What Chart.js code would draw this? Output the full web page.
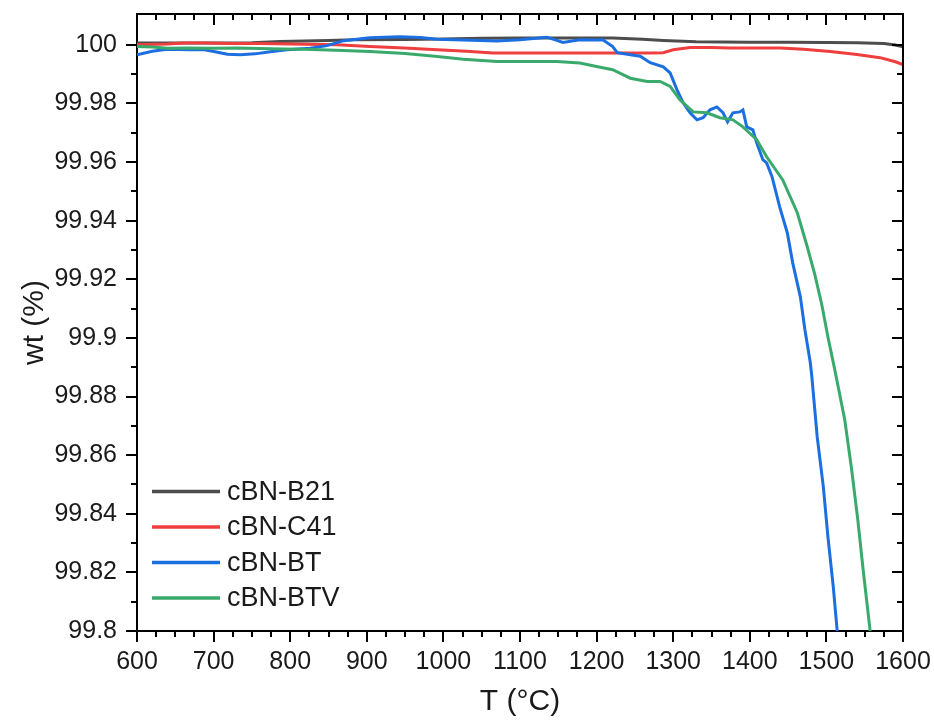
<!DOCTYPE html>
<html>
<head>
<meta charset="utf-8">
<script src="https://cdn.jsdelivr.net/npm/chart.js@4.4.1/dist/chart.umd.min.js"></script>
<style>
html,body{margin:0;padding:0;background:#fff;}
#wrap{width:934px;height:727px;position:relative;}
</style>
</head>
<body>
<div id="wrap"><canvas id="c" width="934" height="727"></canvas></div>
<script>
// ---- tick labels ----
const xTicks = [600, 700, 800, 900, 1000, 1100, 1200, 1300, 1400, 1500, 1600];
const yTicks = [99.8, 99.82, 99.84, 99.86, 99.88, 99.9, 99.92, 99.94, 99.96, 99.98, 100];
const seriesNames = ['cBN-B21', 'cBN-C41', 'cBN-BT', 'cBN-BTV'];

// ---- cBN-B21 ----
const tB21 = [600, 650, 700, 750, 787, 850, 883, 950, 1000, 1050, 1100, 1150, 1200, 1221, 1260, 1287, 1330, 1400, 1450, 1500, 1540, 1575, 1590, 1600];
const wB21 = [100.0006, 100.0006, 100.0006, 100.0007, 100.0011, 100.0015, 100.0017, 100.0018, 100.0020, 100.0022, 100.0023, 100.0023, 100.0023, 100.0023, 100.0019, 100.0015, 100.0010, 100.0009, 100.0009, 100.0008, 100.0007, 100.0004, 99.9999, 99.9993];

// ---- cBN-C41 ----
const tC41 = [600, 640, 660, 690, 720, 760, 800, 861, 904, 949, 992, 1030, 1065, 1150, 1200, 1270, 1287, 1300, 1322, 1350, 1374, 1440, 1470, 1505, 1540, 1570, 1590, 1600];
const wC41 = [100.0000, 100.0003, 100.0006, 100.0006, 100.0004, 100.0004, 100.0003, 100.0000, 99.9994, 99.9989, 99.9983, 99.9978, 99.9972, 99.9972, 99.9972, 99.9972, 99.9973, 99.9983, 99.9991, 99.9991, 99.9989, 99.9989, 99.9985, 99.9977, 99.9967, 99.9956, 99.9942, 99.9932];

// ---- cBN-BT ----
const tBT = [600, 620, 639, 669, 688, 702, 718, 735, 754, 774, 796, 826, 848, 870, 904, 943, 970, 992, 1025, 1070, 1100, 1135, 1148, 1156, 1178, 1200, 1208, 1221, 1227, 1244, 1257, 1270, 1287, 1296, 1305, 1313, 1322, 1331, 1339, 1348, 1357, 1365, 1371, 1378, 1387, 1391, 1396, 1404, 1409, 1417, 1422, 1429, 1439, 1449, 1456, 1466, 1472, 1479, 1481, 1488, 1496, 1502, 1509, 1514, 1518];
const wBT = [99.9966, 99.9978, 99.9985, 99.9983, 99.9983, 99.9976, 99.9968, 99.9966, 99.9969, 99.9976, 99.9983, 99.9988, 99.9997, 100.0014, 100.0024, 100.0027, 100.0025, 100.0019, 100.0016, 100.0013, 100.0017, 100.0026, 100.0015, 100.0008, 100.0017, 100.0016, 100.0017, 99.9994, 99.9973, 99.9966, 99.9961, 99.9939, 99.9925, 99.9904, 99.9846, 99.9802, 99.9768, 99.9744, 99.9751, 99.9778, 99.9788, 99.9768, 99.9737, 99.9768, 99.9771, 99.9778, 99.9720, 99.9710, 99.9666, 99.9608, 99.9597, 99.9550, 99.9447, 99.9358, 99.9256, 99.9140, 99.9027, 99.8915, 99.8867, 99.8662, 99.8492, 99.8321, 99.8150, 99.8003, 99.7900];

// ---- cBN-BTV ----
const tBTV = [600, 620, 640, 665, 700, 730, 760, 790, 818, 860, 904, 950, 992, 1026, 1070, 1100, 1148, 1178, 1200, 1221, 1244, 1266, 1283, 1296, 1309, 1326, 1344, 1361, 1378, 1391, 1409, 1422, 1443, 1462, 1475, 1485, 1494, 1502, 1511, 1524, 1533, 1541, 1548, 1557, 1560];
const wBTV = [99.9994, 99.9992, 99.9988, 99.9989, 99.9988, 99.9989, 99.9987, 99.9986, 99.9985, 99.9981, 99.9977, 99.9970, 99.9960, 99.9951, 99.9943, 99.9943, 99.9943, 99.9938, 99.9926, 99.9915, 99.9886, 99.9875, 99.9875, 99.9858, 99.9812, 99.9771, 99.9768, 99.9751, 99.9744, 99.9720, 99.9676, 99.9618, 99.9539, 99.9427, 99.9311, 99.9215, 99.9113, 99.9003, 99.8891, 99.8720, 99.8550, 99.8379, 99.8208, 99.8003, 99.7950];

const colors = ['#4d4d4d', '#ef3e3e', '#1b6fe0', '#3aaa6c'];

function pts(t, w) { return t.map((v, i) => ({x: v, y: w[i]})); }
const allT = [tB21, tC41, tBT, tBTV];
const allW = [wB21, wC41, wBT, wBTV];
const drawOrder = [4, 3, 2, 1];

const FONT = 'Liberation Sans, Arial, sans-serif';

const framePlugin = {
  id: 'frame',
  afterDatasetsDraw(chart) {
    const {ctx, chartArea: a, scales: {x, y}} = chart;
    ctx.save();
    ctx.strokeStyle = '#000';
    ctx.lineWidth = 2;
    ctx.beginPath();
    ctx.moveTo(a.left, a.top);
    ctx.lineTo(a.right, a.top);
    ctx.lineTo(a.right, a.bottom);
    ctx.stroke();
    ctx.beginPath();
    // x ticks: major + 3 minors
    for (let i = 0; i < xTicks.length; i++) {
      const v = xTicks[i];
      const px = Math.round(x.getPixelForValue(v));
      ctx.moveTo(px, a.top); ctx.lineTo(px, a.top + 11);
      if (i < xTicks.length - 1) {
        const step = (xTicks[i + 1] - v) / 4;
        for (let k = 1; k < 4; k++) {
          const mx = Math.round(x.getPixelForValue(v + k * step));
          ctx.moveTo(mx, a.top); ctx.lineTo(mx, a.top + 6);
          ctx.moveTo(mx, a.bottom); ctx.lineTo(mx, a.bottom + 6);
        }
      }
    }
    // y ticks: major + 1 minor
    for (let i = 0; i < yTicks.length; i++) {
      const v = yTicks[i];
      const py = Math.round(y.getPixelForValue(v));
      ctx.moveTo(a.right, py); ctx.lineTo(a.right - 11, py);
      const nv = i < yTicks.length - 1 ? yTicks[i + 1] : null;
      if (nv !== null) {
        const my = Math.round(y.getPixelForValue((v + nv) / 2));
        ctx.moveTo(a.right, my); ctx.lineTo(a.right - 6, my);
        ctx.moveTo(a.left, my); ctx.lineTo(a.left - 6, my);
      }
    }
    ctx.stroke();

    // legend
    const legX0 = 152, legX1 = 220, legTextX = 227;
    const legY = [491.5, 527, 562.5, 598];
    ctx.font = '27px ' + FONT;
    ctx.textBaseline = 'middle';
    ctx.textAlign = 'left';
    seriesNames.forEach((name, i) => {
      ctx.strokeStyle = colors[i];
      ctx.lineWidth = 3.5;
      ctx.beginPath();
      ctx.moveTo(legX0, legY[i]);
      ctx.lineTo(legX1, legY[i]);
      ctx.stroke();
      ctx.fillStyle = '#1a1a1a';
      ctx.fillText(name, legTextX, legY[i] + 1);
    });
    ctx.restore();
  }
};

new Chart(document.getElementById('c'), {
  type: 'line',
  data: {
    datasets: seriesNames.map((name, i) => ({
      label: name,
      data: pts(allT[i], allW[i]),
      borderColor: colors[i],
      backgroundColor: colors[i],
      borderWidth: 3,
      pointRadius: 0,
      tension: 0,
      fill: false,
      order: drawOrder[i]
    }))
  },
  options: {
    responsive: false,
    animation: false,
    devicePixelRatio: 1,
    layout: {padding: {left: 0, right: 31, top: 14, bottom: 0}},
    plugins: {legend: {display: false}, tooltip: {enabled: false}},
    scales: {
      x: {
        type: 'linear',
        min: 600, max: 1600,
        afterBuildTicks: (s) => { s.ticks = xTicks.map(v => ({value: v})); },
        afterFit: (s) => { s.height = 96; s.paddingLeft = 0; s.paddingRight = 0; },
        ticks: {
          font: {family: FONT, size: 25, lineHeight: 1},
          color: '#1a1a1a',
          padding: 8,
          maxRotation: 0,
          autoSkip: false,
          callback: (v) => String(v)
        },
        grid: {drawOnChartArea: false, drawTicks: true, tickLength: 11, color: '#000', lineWidth: 2},
        border: {display: true, color: '#000', width: 2},
        title: {display: true, text: 'T (°C)', font: {family: FONT, size: 30, lineHeight: 1}, color: '#1a1a1a', padding: {top: 0, bottom: 10}}
      },
      y: {
        type: 'linear',
        min: 99.8, max: 100.0105,
        afterBuildTicks: (s) => { s.ticks = yTicks.map(v => ({value: v})); },
        afterFit: (s) => { s.width = 137; s.paddingTop = 0; s.paddingBottom = 0; },
        ticks: {
          font: {family: FONT, size: 25, lineHeight: 1},
          color: '#1a1a1a',
          padding: 9,
          autoSkip: false,
          callback: (v) => String(Number(Number(v).toFixed(2)))
        },
        grid: {drawOnChartArea: false, drawTicks: true, tickLength: 11, color: '#000', lineWidth: 2},
        border: {display: true, color: '#000', width: 2},
        title: {display: true, text: 'wt (%)', font: {family: FONT, size: 30, lineHeight: 1}, color: '#1a1a1a', padding: {top: 20, bottom: 0}}
      }
    }
  },
  plugins: [framePlugin]
});
</script>
</body>
</html>
